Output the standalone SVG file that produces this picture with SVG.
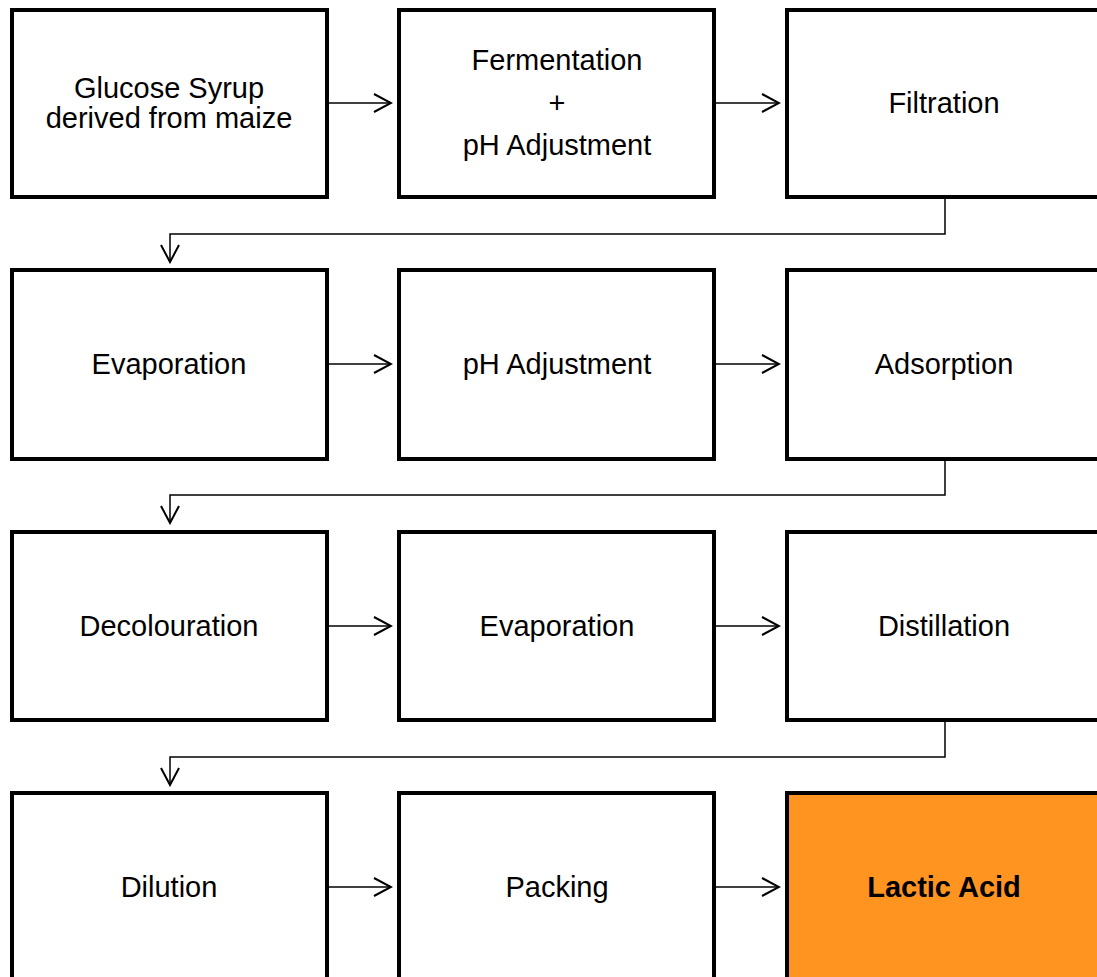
<svg xmlns="http://www.w3.org/2000/svg" width="1097" height="977" viewBox="0 0 1097 977">
<style>
.box{fill:#fff;stroke:#000;stroke-width:4}
.hl{fill:#FF9421}
.t{font-family:"Liberation Sans",Arial,sans-serif;font-size:29px;fill:#000;text-anchor:middle}
.b{font-weight:bold}
.c{fill:none;stroke:#000;stroke-width:1.5}
</style>
<defs>
<marker id="ah" markerWidth="20" markerHeight="20" refX="18" refY="10" orient="auto" markerUnits="userSpaceOnUse">
<path d="M1,1 L18,10 L1,19" fill="none" stroke="#000" stroke-width="2"/>
</marker>
</defs>
<rect width="1097" height="977" fill="#fff"/>
<g id="n1"><rect class="box" x="12" y="10" width="315" height="187"/><text class="t" x="169" y="98">Glucose Syrup</text><text class="t" x="169" y="128">derived from maize</text></g>
<g id="n2"><rect class="box" x="399" y="10" width="315" height="187"/><text class="t" x="557" y="70">Fermentation</text><text class="t" x="557" y="113">+</text><text class="t" x="557" y="155">pH Adjustment</text></g>
<g id="n3"><rect class="box" x="787" y="10" width="320" height="187"/><text class="t" x="944" y="113">Filtration</text></g>
<g id="n4"><rect class="box" x="12" y="270" width="315" height="189"/><text class="t" x="169" y="374">Evaporation</text></g>
<g id="n5"><rect class="box" x="399" y="270" width="315" height="189"/><text class="t" x="557" y="374">pH Adjustment</text></g>
<g id="n6"><rect class="box" x="787" y="270" width="320" height="189"/><text class="t" x="944" y="374">Adsorption</text></g>
<g id="n7"><rect class="box" x="12" y="532" width="315" height="188"/><text class="t" x="169" y="636">Decolouration</text></g>
<g id="n8"><rect class="box" x="399" y="532" width="315" height="188"/><text class="t" x="557" y="636">Evaporation</text></g>
<g id="n9"><rect class="box" x="787" y="532" width="320" height="188"/><text class="t" x="944" y="636">Distillation</text></g>
<g id="n10"><rect class="box" x="12" y="793" width="315" height="200"/><text class="t" x="169" y="897">Dilution</text></g>
<g id="n11"><rect class="box" x="399" y="793" width="315" height="200"/><text class="t" x="557" y="897">Packing</text></g>
<g id="n12"><rect class="box hl" x="787" y="793" width="320" height="200"/><text class="t b" x="944" y="897">Lactic Acid</text></g>
<g id="connectors">
<path class="c" d="M329,103 H391" marker-end="url(#ah)"/>
<path class="c" d="M716,103 H779" marker-end="url(#ah)"/>
<path class="c" d="M945,199 V234 H170 V262" marker-end="url(#ah)"/>
<path class="c" d="M329,364 H391" marker-end="url(#ah)"/>
<path class="c" d="M716,364 H779" marker-end="url(#ah)"/>
<path class="c" d="M945,461 V495 H170 V523" marker-end="url(#ah)"/>
<path class="c" d="M329,626 H391" marker-end="url(#ah)"/>
<path class="c" d="M716,626 H779" marker-end="url(#ah)"/>
<path class="c" d="M945,722 V757 H170 V785" marker-end="url(#ah)"/>
<path class="c" d="M329,887 H391" marker-end="url(#ah)"/>
<path class="c" d="M716,887 H779" marker-end="url(#ah)"/>
</g>
</svg>
